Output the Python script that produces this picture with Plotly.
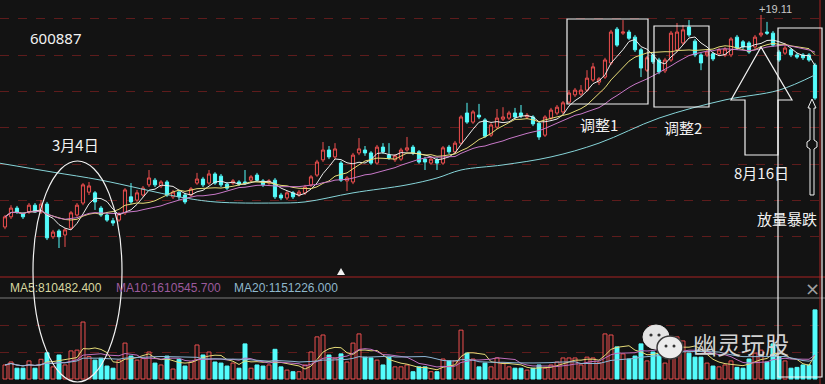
import plotly.graph_objects as go
import pandas as pd

W, H = 825, 384
BG = "#131313"
RED = "#ee4f4f"
CYAN = "#54fcfc"

# ---------------- data ----------------
day = list(range(136))

open_ = [13.27, 13.55, 13.79, 13.63, 13.68, 13.87, 13.68, 13.90, 13.00, 13.16,
         13.05, 13.24, 13.60, 13.93, 14.23, 14.21, 13.79, 13.60, 13.44, 13.46,
         13.66, 14.10, 14.01, 14.15, 14.43, 14.56, 14.40, 14.51, 14.10, 14.23,
         14.15, 14.15, 14.48, 14.59, 14.48, 14.73, 14.67, 14.45, 14.48, 14.51,
         14.51, 14.56, 14.70, 14.54, 14.48, 14.56, 14.15, 14.07, 14.21, 14.15,
         14.21, 14.43, 14.70, 15.12, 15.39, 15.20, 15.03, 14.54, 14.51, 15.31,
         15.39, 15.31, 15.03, 15.47, 15.25, 15.12, 15.14, 15.39, 15.47, 15.34,
         15.14, 15.03, 15.12, 15.03, 15.47, 15.34, 15.58, 16.41, 16.16, 16.35,
         16.22, 15.80, 16.02, 16.24, 16.27, 16.41, 16.41, 16.30, 16.30, 16.13,
         15.80, 16.27, 16.41, 16.44, 16.71, 16.91, 16.93, 17.04, 17.32, 17.26,
         17.40, 17.79, 18.72, 18.61, 18.64, 18.50, 18.15, 17.59, 18.01, 17.87,
         17.57, 17.87, 18.15, 18.34, 18.78, 18.39, 18.01, 18.01, 18.04, 18.04,
         18.01, 18.01, 18.50, 18.37, 18.34, 18.23, 18.56, 18.64, 18.61, 18.09,
         18.06, 18.15, 18.01, 18.01, 18.01, 17.73]

high = [13.60, 13.87, 13.85, 13.68, 13.93, 13.93, 14.01, 13.96, 13.19, 13.21,
        13.24, 13.71, 13.93, 14.48, 14.51, 14.26, 13.85, 13.68, 13.52, 13.68,
        14.34, 14.48, 14.29, 14.40, 14.84, 14.62, 14.56, 14.56, 14.29, 14.29,
        14.21, 14.37, 14.76, 14.65, 14.84, 14.78, 14.73, 14.51, 14.59, 14.56,
        14.84, 14.70, 14.76, 14.59, 14.59, 14.62, 14.21, 14.26, 14.26, 14.29,
        14.43, 14.70, 15.12, 15.61, 15.50, 15.58, 15.09, 14.67, 15.31, 15.72,
        15.50, 15.36, 15.53, 15.58, 15.58, 15.28, 15.45, 15.75, 15.53, 15.39,
        15.20, 15.20, 15.17, 15.50, 15.53, 15.64, 16.35, 16.69, 16.49, 16.66,
        16.27, 16.13, 16.52, 16.57, 16.47, 16.55, 16.63, 16.41, 16.35, 16.19,
        16.35, 16.55, 16.63, 16.74, 17.04, 17.10, 17.18, 17.59, 17.79, 17.40,
        17.93, 18.70, 18.78, 18.97, 18.70, 18.56, 18.20, 17.98, 18.06, 17.93,
        17.93, 18.67, 18.89, 18.83, 18.97, 18.45, 18.06, 18.15, 18.09, 18.20,
        18.23, 18.50, 18.56, 18.42, 18.39, 18.56, 19.11, 18.92, 18.67, 18.15,
        18.34, 18.20, 18.06, 18.06, 18.06, 17.79]

low = [13.21, 13.49, 13.63, 13.49, 13.63, 13.66, 13.63, 12.91, 12.94, 12.69,
       12.72, 13.19, 13.55, 13.87, 14.15, 13.74, 13.55, 13.41, 13.30, 13.41,
       13.60, 13.90, 13.96, 14.10, 14.37, 14.37, 14.34, 14.10, 14.04, 14.01,
       13.90, 14.10, 14.43, 14.37, 14.43, 14.43, 14.37, 14.29, 14.43, 14.40,
       14.43, 14.51, 14.51, 14.37, 14.43, 14.04, 14.01, 14.01, 14.04, 14.10,
       14.15, 14.37, 14.65, 15.06, 15.14, 15.14, 14.51, 14.26, 14.45, 15.25,
       15.23, 14.98, 14.98, 15.28, 15.12, 15.06, 15.09, 15.34, 15.25, 15.01,
       14.84, 14.98, 14.84, 14.98, 15.28, 15.28, 15.53, 16.11, 16.11, 16.24,
       15.72, 15.75, 15.97, 16.19, 16.22, 16.24, 16.27, 16.24, 16.05, 15.67,
       15.75, 16.22, 16.35, 16.38, 16.66, 16.85, 16.88, 16.99, 17.27, 17.18,
       17.35, 17.73, 18.23, 18.56, 18.42, 18.09, 17.40, 17.54, 17.76, 17.48,
       17.51, 17.82, 18.09, 18.28, 18.50, 17.95, 17.59, 17.95, 17.84, 17.98,
       17.95, 17.95, 18.15, 18.17, 18.04, 18.17, 18.50, 18.56, 18.23, 17.82,
       18.01, 17.95, 17.90, 17.87, 17.82, 16.77]

close = [13.55, 13.79, 13.68, 13.55, 13.87, 13.68, 13.90, 12.97, 13.13, 13.00,
         13.19, 13.66, 13.87, 14.43, 14.40, 13.96, 13.60, 13.46, 13.38, 13.63,
         14.29, 13.96, 14.21, 14.34, 14.62, 14.43, 14.51, 14.15, 14.23, 14.10,
         13.96, 14.32, 14.59, 14.43, 14.73, 14.48, 14.43, 14.34, 14.54, 14.45,
         14.48, 14.65, 14.56, 14.43, 14.54, 14.10, 14.07, 14.21, 14.10, 14.23,
         14.37, 14.65, 15.06, 15.39, 15.20, 15.42, 14.56, 14.62, 15.25, 15.42,
         15.31, 15.03, 15.47, 15.34, 15.17, 15.23, 15.39, 15.45, 15.31, 15.06,
         15.06, 15.14, 15.03, 15.45, 15.34, 15.58, 16.30, 16.16, 16.44, 16.30,
         15.77, 16.08, 16.27, 16.30, 16.41, 16.30, 16.33, 16.35, 16.11, 15.75,
         16.30, 16.49, 16.57, 16.69, 16.96, 17.04, 17.04, 17.37, 17.68, 17.35,
         17.87, 18.64, 18.28, 18.64, 18.47, 18.15, 17.65, 17.93, 17.82, 17.54,
         17.87, 18.61, 18.64, 18.70, 18.56, 18.01, 17.79, 18.09, 17.90, 18.15,
         18.17, 18.45, 18.20, 18.23, 18.09, 18.50, 18.61, 18.61, 18.28, 17.87,
         18.20, 18.01, 17.95, 17.93, 17.87, 16.82]

# volume, in units of 10,000 lots
volume = [52, 63, 40, 40, 67, 40, 73, 97, 45, 89,
          52, 104, 107, 211, 83, 70, 77, 48, 40, 70,
          133, 85, 70, 77, 100, 59, 52, 85, 37, 73,
          48, 63, 126, 89, 100, 63, 59, 48, 59, 40,
          130, 40, 52, 48, 52, 110, 45, 33, 27, 27,
          52, 100, 156, 163, 89, 78, 93, 63, 133, 167,
          81, 78, 70, 52, 81, 45, 45, 52, 27, 45,
          45, 27, 27, 74, 67, 67, 181, 96, 74, 45,
          59, 45, 78, 59, 45, 40, 40, 33, 40, 52,
          40, 52, 63, 78, 78, 78, 52, 81, 78, 60,
          167, 163, 119, 93, 74, 85, 130, 67, 100, 96,
          59, 137, 156, 141, 96, 81, 81, 59, 48, 45,
          52, 67, 43, 40, 74, 96, 107, 63, 130, 81,
          67, 40, 43, 52, 52, 256]

# long moving average (MA60) at sample days
ma60_day = [-1, 8, 16, 29, 35, 45, 50, 58, 67, 72, 76, 83, 91, 99, 109, 120, 129, 135]
ma60_val = [15.03, 14.78, 14.56, 14.10, 13.96, 13.93, 13.96, 14.21, 14.43, 14.62,
            14.84, 14.98, 15.20, 15.58, 16.27, 16.77, 17.04, 17.46]

# ---------------- derived series ----------------
cs = pd.Series(close)
ma5 = cs.rolling(5, min_periods=1).mean()
ma10 = cs.rolling(10, min_periods=1).mean()
ma20 = cs.rolling(20, min_periods=1).mean()
vs = pd.Series(volume)
vma5 = vs.rolling(5, min_periods=1).mean()
vma10 = vs.rolling(10, min_periods=1).mean()
vma20 = vs.rolling(20, min_periods=1).mean()

up = [c >= o for o, c in zip(open_, close)]
bar_fill = [BG if u else CYAN for u in up]
bar_line = [RED if u else CYAN for u in up]


def px(x):
    return x / W


def py(y):
    return 1 - y / H


def path(points):
    return "M " + " L ".join(f"{px(x):.5f},{py(y):.5f}" for x, y in points) + " Z"


fig = go.Figure()
fig.add_trace(go.Candlestick(
    x=day, open=open_, high=high, low=low, close=close,
    increasing=dict(line=dict(color=RED, width=1), fillcolor=BG),
    decreasing=dict(line=dict(color=CYAN, width=1), fillcolor=CYAN),
    whiskerwidth=0, showlegend=False, hoverinfo="none", xaxis="x", yaxis="y"))

for ser, col in [(ma5, "#ececec"), (ma10, "#e6dc78"), (ma20, "#c878c8")]:
    fig.add_trace(go.Scatter(x=day, y=ser, mode="lines", line=dict(color=col, width=1),
                             showlegend=False, hoverinfo="skip", xaxis="x", yaxis="y"))
fig.add_trace(go.Scatter(x=ma60_day, y=ma60_val, mode="lines",
                         line=dict(color="#86d4d8", width=1, shape="spline"),
                         showlegend=False, hoverinfo="skip", xaxis="x", yaxis="y"))

fig.add_trace(go.Bar(x=day, y=volume, width=0.66,
                     marker=dict(color=bar_fill, line=dict(color=bar_line, width=1)),
                     showlegend=False, hoverinfo="skip", xaxis="x2", yaxis="y2"))
for ser, col in [(vma5, "#e6dc78"), (vma10, "#c070c0"), (vma20, "#8fb8d8")]:
    fig.add_trace(go.Scatter(x=day, y=ser, mode="lines", line=dict(color=col, width=1),
                             showlegend=False, hoverinfo="skip", xaxis="x2", yaxis="y2"))

XR = [-0.833, 136.667]
GRID = "#5e1c1c"
fig.update_layout(
    width=W, height=H, autosize=False,
    margin=dict(l=0, r=0, t=0, b=0, pad=0),
    paper_bgcolor=BG, plot_bgcolor=BG,
    boxgap=0.25,
    bargap=0,
    hovermode=False,
    xaxis=dict(domain=[0, 1], range=XR, visible=False, rangeslider=dict(visible=False),
               anchor="y"),
    xaxis2=dict(domain=[0, 1], range=XR, visible=False, anchor="y2"),
    yaxis=dict(domain=[1 - 277 / H, 1], range=[11.892, 19.523],
               tickvals=[13, 14, 15, 16, 17, 18, 19], showticklabels=False, ticks="",
               showgrid=True, gridcolor=GRID, griddash="dash", gridwidth=1,
               zeroline=False, showline=False, anchor="x"),
    yaxis2=dict(domain=[0, 1 - 298 / H], range=[-18.5, 300],
                tickvals=[100, 200], showticklabels=False, ticks="",
                showgrid=True, gridcolor=GRID, griddash="dash", gridwidth=1,
                zeroline=False, showline=False, anchor="x2"),
)

WHITE = "#f2f2f2"
shapes = []
# panel separators
shapes.append(dict(type="line", xref="paper", yref="paper", x0=0, x1=1, y0=py(277), y1=py(277),
                   line=dict(color="#a82222", width=1)))
shapes.append(dict(type="line", xref="paper", yref="paper", x0=0, x1=1, y0=py(298), y1=py(298),
                   line=dict(color="#7a7a7a", width=1)))
shapes.append(dict(type="line", xref="paper", yref="paper", x0=px(820), x1=px(820), y0=0, y1=1,
                   line=dict(color="#a82222", width=1)))
# ellipse around 3月4日
shapes.append(dict(type="circle", xref="paper", yref="paper", x0=px(33), x1=px(122),
                   y0=py(382), y1=py(161), line=dict(color=WHITE, width=1.2)))
# boxes
for x0, x1, y0, y1 in [(567, 648, 19, 104), (654, 709, 26, 107), (778, 822, 28, 377)]:
    shapes.append(dict(type="rect", xref="paper", yref="paper", x0=px(x0), x1=px(x1),
                       y0=py(y1), y1=py(y0), line=dict(color=WHITE, width=1.2)))
# big hollow arrow
shapes.append(dict(type="path", xref="paper", yref="paper", line=dict(color=WHITE, width=1.2),
                   path=path([(761, 47), (792, 100), (778, 100), (778, 155), (745, 155),
                              (745, 100), (731, 100)])))
# thin arrow inside right box
shapes.append(dict(type="path", xref="paper", yref="paper", line=dict(color=WHITE, width=1),
                   path=path([(812, 99), (816, 108), (814, 108), (814, 140), (817, 142),
                              (817, 147), (814, 149), (814, 195), (810, 195), (810, 149),
                              (807, 147), (807, 142), (810, 140), (810, 108), (808, 108)])))
# small triangle marker
shapes.append(dict(type="path", xref="paper", yref="paper", line=dict(color=WHITE, width=0),
                   fillcolor=WHITE, path=path([(337, 275), (345, 275), (341, 268)])))
# WeChat watermark bubbles
shapes.append(dict(type="circle", xref="paper", yref="paper", x0=px(643), x1=px(669),
                   y0=py(349), y1=py(325), fillcolor="#e4e4e4", line=dict(color="#e4e4e4", width=1)))
shapes.append(dict(type="circle", xref="paper", yref="paper", x0=px(657), x1=px(683),
                   y0=py(359), y1=py(336), fillcolor="#ececec", line=dict(color="#3a3a3a", width=1.5)))
for ex, ey, r in [(651, 335, 1.6), (659, 335, 1.6), (666, 346, 1.5), (674, 346, 1.5)]:
    shapes.append(dict(type="circle", xref="paper", yref="paper", x0=px(ex - r), x1=px(ex + r),
                       y0=py(ey + r), y1=py(ey - r), fillcolor="#333333", line=dict(width=0)))
fig.update_layout(shapes=shapes)

CJK = "Noto Sans CJK SC"
ann = []


def txt(x, y, s, size, color=WHITE, family=CJK, anchor="left"):
    ann.append(dict(x=px(x), y=py(y), xref="paper", yref="paper", text=s, showarrow=False,
                    xanchor=anchor, yanchor="middle", font=dict(size=size, color=color, family=family)))


txt(28, 38, "600887", 15, family="Noto Sans")
txt(50, 144, "3月4日", 15)
txt(578, 125, "调整1", 15)
txt(662, 127, "调整2", 15)
txt(732, 173, "8月16日", 15)
txt(755, 218, "放量暴跌", 15)
txt(757, 9, "+19.11", 11, color="#c8c8c8", family="Liberation Sans")
txt(8, 288, "MA5:810482.400", 12, color="#d8d8a0", family="Liberation Sans")
txt(114, 288, "MA10:1610545.700", 12, color="#9c5a9c", family="Liberation Sans")
txt(232, 288, "MA20:1151226.000", 12, color="#8fb8cc", family="Liberation Sans")
txt(812, 288, "×", 18, color="#a0a0a0", family="DejaVu Sans", anchor="center")
txt(691, 343, "幽灵玩股", 24, color="#d2d2d2")
fig.update_layout(annotations=ann)

fig.write_html("out.html", config={"displayModeBar": False, "staticPlot": True},
               post_script="document.body.style.margin='0';document.body.style.overflow='hidden';")
